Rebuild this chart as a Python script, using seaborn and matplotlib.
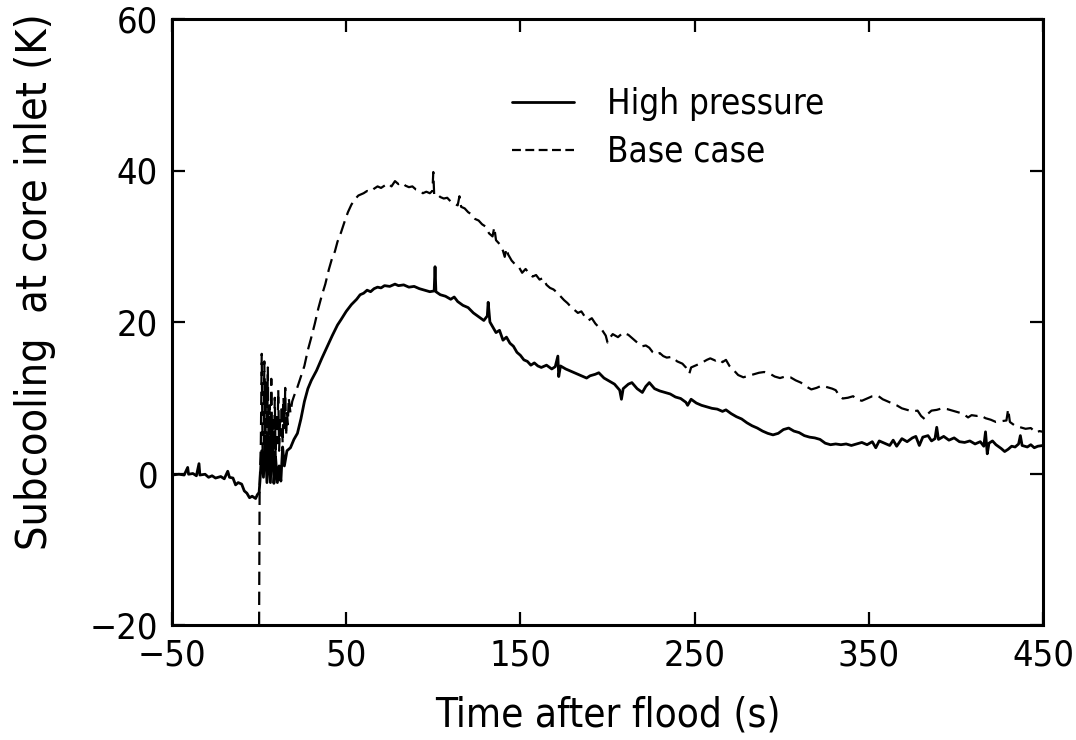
import numpy as np
import pandas as pd
import seaborn as sns
import matplotlib
matplotlib.use("Agg")
import matplotlib.pyplot as plt
from matplotlib import font_manager as fm
from matplotlib.ticker import FixedLocator

# ---------------- data ----------------
t_high = [-50, -46, -43, -41, -40.5, -38, -36, -34.5, -34, -31, -29, -27, -25, -22, -20, -18, -17, -15,
          -13.5, -12, -10, -8.5, -7, -5.5, -4, -2, -1, 0, 0.5, 1.5, 2.5, 3.5, 4.5, 5.5, 6.5, 7.5, 8.5,
          9.5, 10.5, 11.5, 12.5, 13.5, 14.5, 16, 18, 20, 22, 24, 26, 28, 30, 33, 36, 39, 42, 45, 47,
          50, 53, 56, 58, 60, 62, 64, 66, 68, 70, 72, 75, 78, 80, 83, 86, 89, 92, 95, 98, 100.5, 101,
          101.5, 104, 107, 110, 112, 114, 117, 120, 123, 126, 129, 131, 131.5, 132.5, 134, 136, 138,
          140, 142, 144, 146, 148, 150, 152, 154, 156, 158, 160, 162, 165, 168, 170, 171.5, 172, 173,
          176, 179, 182, 185, 188, 190, 193, 195, 198, 201, 204, 207, 208, 209, 212, 214, 217, 220,
          222, 224, 227, 230, 233, 236, 239, 242, 245, 246, 248, 251, 254, 257, 260, 263, 266, 268,
          271, 274, 277, 280, 283, 286, 289, 292, 295, 298, 301, 304, 307, 310, 313, 316, 319, 322,
          325, 328, 331, 334, 337, 340, 343, 346, 349, 352, 354, 356, 359, 362, 364, 366, 369, 372,
          375, 377, 379, 381, 384, 386, 388, 389, 390, 393, 396, 399, 402, 405, 408, 411, 414, 416,
          417, 418, 419, 421, 423, 426, 428, 430, 432, 434, 436, 437, 438, 441, 443, 445, 447, 450]
y_high = [-0.2, -0.1, -0.2, 0.8, -0.1, 0.0, -0.3, 1.3, -0.2, -0.1, -0.5, -0.3, -0.6, -0.4, -0.7, 0.3, -0.5, -0.6,
          -1.5, -1.2, -1.4, -2.3, -2.6, -3.2, -3.0, -3.3, -2.8, -2.5, -1.0, 3.0, -0.5, 5.0, -1.2, 4.0, -1.2, 6.5, -1.3,
          2.0, -1.2, 1.0, -1.0, 3.5, 1.0, 3.0, 3.4, 4.5, 5.3, 7.2, 9.5, 11.2, 12.3, 13.6, 15.2, 16.7, 18.2, 19.6, 20.3,
          21.4, 22.3, 23.0, 23.6, 23.8, 24.2, 24.0, 24.4, 24.6, 24.5, 24.8, 24.7, 25.0, 24.8, 24.9, 24.6, 24.7, 24.4, 24.2, 24.0, 24.1, 27.3,
          24.0, 23.6, 23.4, 23.0, 23.3, 22.7, 22.2, 21.9, 21.2, 20.7, 20.2, 20.8, 22.6, 20.0, 19.4, 18.6, 18.9,
          17.6, 18.0, 17.2, 16.8, 16.0, 15.6, 15.0, 14.8, 14.3, 14.6, 14.2, 14.0, 14.3, 13.8, 14.1, 15.5, 12.8, 14.2,
          13.8, 13.5, 13.2, 12.9, 12.6, 12.9, 13.1, 13.3, 12.6, 12.2, 11.8, 11.0, 9.8, 11.2, 11.8, 12.0, 11.2, 10.7,
          11.5, 12.0, 11.2, 10.9, 10.7, 10.5, 10.1, 9.9, 9.4, 9.0, 9.8, 9.3, 9.0, 8.8, 8.6, 8.5, 8.2, 8.4,
          7.9, 7.5, 7.2, 6.7, 6.3, 6.0, 5.6, 5.3, 5.1, 5.3, 5.8, 6.0, 5.6, 5.4, 5.0, 4.8, 4.7, 4.5,
          4.0, 3.8, 3.9, 3.8, 3.9, 3.7, 3.9, 4.1, 3.8, 4.2, 3.4, 4.3, 4.0, 3.7, 4.4, 3.6, 4.6, 4.2,
          4.7, 4.9, 3.7, 4.8, 5.0, 4.3, 4.6, 6.1, 4.5, 4.9, 4.4, 4.7, 4.2, 4.1, 4.3, 3.9, 4.2, 3.6,
          5.5, 2.6, 4.0, 4.3, 3.8, 3.3, 2.9, 3.2, 3.6, 3.5, 3.9, 5.0, 3.7, 3.5, 3.8, 3.4, 3.6, 3.7]

t_base = [0, 0.3, 1, 1.5, 2, 2.5, 3, 3.5, 4, 4.5, 5, 5.5, 6, 6.5, 7, 7.5, 8, 8.5, 9, 9.5, 10, 10.5, 11,
          11.5, 12, 12.5, 13, 13.5, 14, 14.5, 15, 15.5, 16, 16.5, 17, 18, 19, 20, 22, 24, 26, 28, 30, 32,
          34, 36, 38, 40, 42, 43.5, 45, 47, 49, 51, 53, 55, 57, 60, 62, 64, 66, 68, 70, 72, 74, 76, 78,
          80, 82, 84, 86, 88, 90, 92, 94, 96, 98, 99.5, 100, 100.5, 102, 104, 106, 108, 110, 112, 114,
          115, 116, 118, 120, 122, 124, 126, 128, 130, 132, 134, 135, 136, 138, 140, 141, 142, 143, 145,
          147, 149, 151, 153, 155, 157, 159, 161, 163, 165, 167, 169, 171, 173, 175, 177, 179, 181, 183,
          185, 187, 189, 191, 193, 195, 197, 199, 200, 201, 203, 206, 209, 212, 214, 216, 218, 220, 222,
          224, 226, 228, 230, 232, 234, 237, 240, 243, 245, 247, 248, 251, 254, 257, 259, 262, 264, 266,
          268, 270, 273, 275, 278, 281, 284, 287, 290, 293, 296, 299, 302, 305, 308, 311, 314, 317, 320,
          323, 326, 329, 331, 333, 335, 338, 341, 343, 346, 349, 352, 355, 358, 361, 364, 366, 369, 372,
          375, 378, 380, 382, 384, 386, 389, 392, 395, 398, 401, 404, 407, 409, 412, 414, 417, 420, 423,
          426, 429, 430, 431, 434, 437, 440, 443, 446, 448, 450]
y_base = [-20, -2, 4, 15.8, 3, 0, 14.8, 1, 12, 0.5, 14, 2, 9, 0.0, 12.5, 3, 7, 0.5, 10, 2, 8, 4, 11,
          3, 7, 5, 9, 4, 10, 6, 11.3, 5, 8, 6.5, 10, 8, 9.5, 10.2, 11.4, 12.8, 14.2, 16.3, 18.0, 19.8,
          21.8, 23.5, 25.0, 26.9, 28.5, 29.3, 30.6, 31.8, 33.2, 34.5, 35.5, 36.2, 36.7, 37.0, 37.3, 37.2, 37.6, 37.9, 37.7, 38.0, 38.3, 37.9, 38.6,
          38.2, 38.4, 38.0, 37.8, 37.9, 37.5, 37.4, 37.0, 37.2, 37.0, 37.3, 39.8, 36.8, 36.9, 36.5, 36.3, 36.4, 35.9, 35.6, 35.4,
          36.6, 35.2, 35.0, 34.5, 34.2, 33.6, 33.4, 32.9, 32.6, 31.7, 31.3, 32.5, 30.8, 30.3, 29.4, 28.6, 29.7, 28.9, 28.1,
          27.6, 27.3, 26.5, 27.0, 26.4, 26.0, 26.2, 25.6, 25.8, 24.9, 24.5, 24.3, 23.9, 23.4, 22.9, 22.5, 22.0, 21.6, 21.2,
          21.4, 20.7, 20.2, 20.5, 19.8, 19.3, 18.9, 18.2, 17.3, 17.8, 18.4, 18.0, 18.6, 18.3, 17.9, 17.5, 17.1, 16.8, 16.9,
          16.6, 16.0, 15.7, 15.9, 15.5, 15.3, 15.4, 14.8, 14.5, 14.0, 13.2, 14.0, 14.3, 14.6, 15.0, 15.2, 14.9, 15.1, 14.7,
          15.0, 14.2, 13.5, 13.0, 12.7, 12.9, 13.1, 13.3, 13.4, 13.2, 12.8, 12.6, 12.8, 12.7, 12.3, 12.0, 11.5, 11.1, 11.3,
          11.6, 11.4, 11.2, 11.0, 10.3, 9.9, 10.0, 10.2, 9.8, 9.6, 9.9, 10.2, 10.3, 9.8, 9.5, 9.2, 9.0, 8.6, 8.4,
          8.2, 8.3, 7.6, 7.2, 7.9, 8.3, 8.4, 8.6, 8.5, 8.3, 8.1, 7.9, 7.4, 7.7, 7.6, 7.7, 7.3, 7.1, 6.8,
          6.9, 7.0, 8.5, 6.8, 6.3, 6.1, 5.9, 6.0, 5.4, 5.6, 5.5]

series_labels = ["High pressure", "Base case"]
x_ticks = [-50, 50, 150, 250, 350, 450]
y_ticks = [-20, 0, 20, 40, 60]

# ---------------- style ----------------
sns.set_style("ticks")

# choose a narrow font if one is installed
narrow = False
family = ['DejaVu Sans']
stretch = 'normal'
try:
    p = fm.findfont(fm.FontProperties(family='Liberation Sans Narrow'), fallback_to_default=False)
    if 'narrow' in p.lower():
        family = ['Liberation Sans Narrow', 'DejaVu Sans']
        narrow = True
except Exception:
    pass
if not narrow:
    try:
        p = fm.findfont(fm.FontProperties(family='DejaVu Sans', stretch='condensed'))
        if 'condensed' in p.lower():
            stretch = 'condensed'
            narrow = True
    except Exception:
        pass

plt.rcParams['font.family'] = family
plt.rcParams['font.stretch'] = stretch
plt.rcParams['axes.unicode_minus'] = True
plt.rcParams['text.color'] = 'black'
plt.rcParams['axes.labelcolor'] = 'black'

if narrow:
    tick_fs, xlabel_fs, ylabel_fs, leg_fs = 26, 29, 31, 25
else:
    tick_fs, xlabel_fs, ylabel_fs, leg_fs = 21, 23, 25, 20

fig = plt.figure(figsize=(10.76, 7.40), dpi=100)
ax = fig.add_axes([172/1076, 1 - 625/740, (1043-172)/1076, (625-19)/740])

sns.lineplot(x=t_high, y=y_high, ax=ax, color='black', linewidth=2.0,
             estimator=None, sort=False, label=series_labels[0])
sns.lineplot(x=t_base, y=y_base, ax=ax, color='black', linewidth=1.6,
             estimator=None, sort=False, label=series_labels[1])
ax.lines[1].set_linestyle((0, (6, 3)))

ax.set_xlim(-50, 450)
ax.set_ylim(-20, 60)
ax.xaxis.set_major_locator(FixedLocator(x_ticks))
ax.yaxis.set_major_locator(FixedLocator(y_ticks))
ax.tick_params(axis='both', which='major', direction='in', length=9.5, width=1.6,
               top=True, right=True, labelsize=tick_fs, colors='black')
ax.tick_params(axis='x', pad=10)
ax.tick_params(axis='y', pad=10)
for s in ax.spines.values():
    s.set_linewidth(2.2)
    s.set_color('black')

ax.set_xlabel("Time after flood (s)", fontsize=xlabel_fs, labelpad=16)
ax.set_ylabel("Subcooling  at core inlet (K)", fontsize=ylabel_fs)
ax.yaxis.set_label_coords(-0.1335, 0.566)

leg = ax.legend(loc='upper left', bbox_to_anchor=(0.39, 0.888), frameon=False,
                fontsize=leg_fs, handlelength=1.8, handletextpad=0.95, labelspacing=0.4,
                borderpad=0, borderaxespad=0)
for t in leg.get_texts():
    t.set_color('black')
leg.get_lines()[1].set_linestyle((0, (4, 2)))

fig.savefig("out.png", dpi=100)
